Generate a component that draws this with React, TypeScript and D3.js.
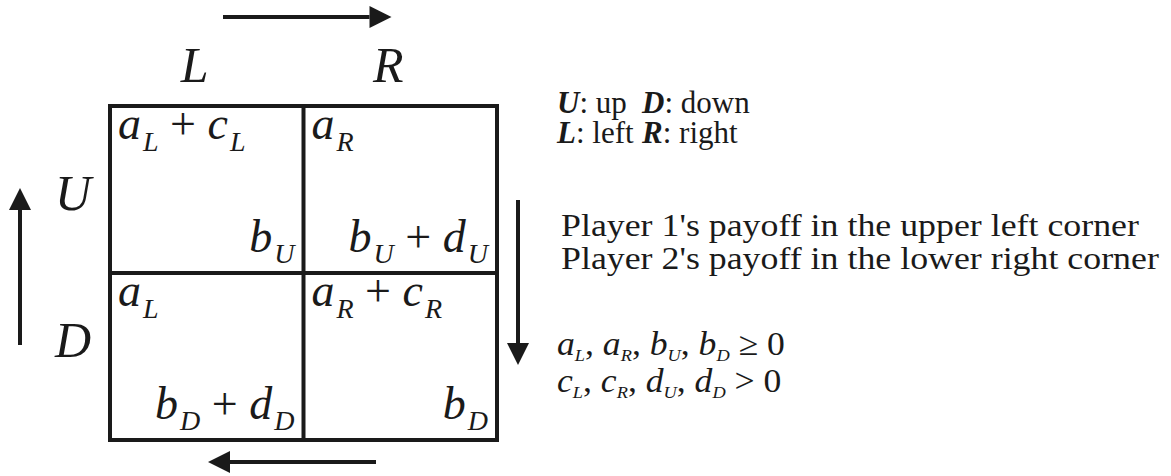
import React from 'react';
import * as d3 from 'd3';

const W = 1171;
const H = 476;

const rows = ['U', 'D'];
const cols = ['L', 'R'];

// each payoff is a list of terms, a term is [variable, subscript]
const player1 = [
  [[['a', 'L'], ['c', 'L']], [['a', 'R']]],
  [[['a', 'L']], [['a', 'R'], ['c', 'R']]],
];
const player2 = [
  [[['b', 'U']], [['b', 'U'], ['d', 'U']]],
  [[['b', 'D'], ['d', 'D']], [['b', 'D']]],
];

const legend = [
  ['U', 'up', 'D', 'down'],
  ['L', 'left', 'R', 'right'],
];
const notes = [
  "Player 1's payoff in the upper left corner",
  "Player 2's payoff in the lower right corner",
];
const weakTerms = [['a', 'L'], ['a', 'R'], ['b', 'U'], ['b', 'D']];
const strictTerms = [['c', 'L'], ['c', 'R'], ['d', 'U'], ['d', 'D']];

const FONT = "'Liberation Serif'";
const INK = '#1a1a1a';

// terms -> tspans with subscripts
function termSpans(terms: string[][], joiner: string, sub: number, drop: number, gap: number) {
  const out: React.ReactNode[] = [];
  terms.forEach(([v, s], i) => {
    if (i > 0) {
      out.push(
        <tspan key={'j' + i} dy={-drop} fontStyle="normal">{joiner}</tspan>
      );
    }
    out.push(<tspan key={'v' + i} fontStyle="italic">{v}</tspan>);
    out.push(
      <tspan key={'s' + i} dx={gap} dy={drop} fontSize={sub} fontStyle="italic">{s}</tspan>
    );
  });
  return out;
}

function Arrow({ x1, y1, x2, y2 }: { x1: number; y1: number; x2: number; y2: number }) {
  const ang = Math.atan2(y2 - y1, x2 - x1);
  const len = 22;
  const half = 11;
  const bx = x2 - len * Math.cos(ang);
  const by = y2 - len * Math.sin(ang);
  const px = -Math.sin(ang) * half;
  const py = Math.cos(ang) * half;
  const head = d3.path();
  head.moveTo(x2, y2);
  head.lineTo(bx + px, by + py);
  head.lineTo(bx - px, by - py);
  head.closePath();
  return (
    <g>
      <line x1={x1} y1={y1} x2={bx} y2={by} stroke={INK} strokeWidth={4} />
      <path d={head.toString()} fill={INK} />
    </g>
  );
}

export default function App() {
  const x = d3.scaleBand().domain(cols).range([110, 497]);
  const y = d3.scaleBand().domain(rows).range([106, 440]);
  const bw = x.bandwidth();
  const bh = y.bandwidth();
  const x0 = x('L')!;
  const x1 = x('R')! + bw;
  const y0 = y('U')!;
  const y1 = y('D')! + bh;
  const colDx = -12;
  const rowDy = [20, 0];

  return (
    <svg width={W} height={H} style={{ position: 'absolute', left: 0, top: 0, background: '#fff', fontFamily: FONT }}
      fill={INK}>
      <rect width={W} height={H} fill="#fff" />

      {/* direction arrows round the matrix */}
      <Arrow x1={x0 + 113} y1={17} x2={x('R')! + 88} y2={17} />
      <Arrow x1={x1 - 121} y1={y1 + 22} x2={x0 + 98} y2={y1 + 22} />
      <Arrow x1={20} y1={y('D')! + 72} x2={20} y2={y0 + 82} />
      <Arrow x1={x1 + 21} y1={y0 + 94} x2={x1 + 21} y2={y('D')! + 92} />

      {/* strategy labels */}
      {cols.map((c) => (
        <text key={c} x={x(c)! + bw / 2 + colDx} y={82} fontSize={50} fontStyle="italic" textAnchor="middle">{c}</text>
      ))}
      {rows.map((r, i) => (
        <text key={r} x={73} y={y(r)! + bh / 2 + rowDy[i]} fontSize={50} fontStyle="italic" textAnchor="middle">{r}</text>
      ))}

      {/* matrix */}
      <g fill="none" stroke={INK} strokeWidth={4}>
        <rect x={x0} y={y0} width={x1 - x0} height={y1 - y0} />
        <line x1={x('R')} y1={y0} x2={x('R')} y2={y1} />
        <line x1={x0} y1={y('D')} x2={x1} y2={y('D')} />
      </g>

      {rows.map((r, i) =>
        cols.map((c, j) => (
          <g key={r + c}>
            <text x={x(c)! + 8} y={y(r)! + 33} fontSize={46}>
              {termSpans(player1[i][j], ' + ', 28, 12, 2)}
            </text>
            <text x={x(c)! + bw - 9} y={y(r)! + bh - 21} fontSize={46} textAnchor="end">
              {termSpans(player2[i][j], ' + ', 28, 11, 2)}
            </text>
          </g>
        ))
      )}

      {/* legend */}
      {legend.map((row, i) => (
        <g key={i} fontSize={31}>
          <text x={557} y={113 + i * 30}>
            <tspan fontWeight="bold" fontStyle="italic">{row[0]}</tspan>
            <tspan>: {row[1]}</tspan>
          </text>
          <text x={642} y={113 + i * 30}>
            <tspan fontWeight="bold" fontStyle="italic">{row[2]}</tspan>
            <tspan>: {row[3]}</tspan>
          </text>
        </g>
      ))}

      {notes.map((n, i) => (
        <text key={i} transform={`translate(561,${236 + i * 33}) scale(1.12,1)`} fontSize={32}>{n}</text>
      ))}

      <text transform="translate(557,355) scale(1.08,1)" fontSize={33}>
        {termSpans(weakTerms, ', ', 17, 6, 0)}
        <tspan dy={-6}> ≥ 0</tspan>
      </text>
      <text transform="translate(557,392) scale(1.08,1)" fontSize={33}>
        {termSpans(strictTerms, ', ', 17, 6, 0)}
        <tspan dy={-6}> &gt; 0</tspan>
      </text>
    </svg>
  );
}
